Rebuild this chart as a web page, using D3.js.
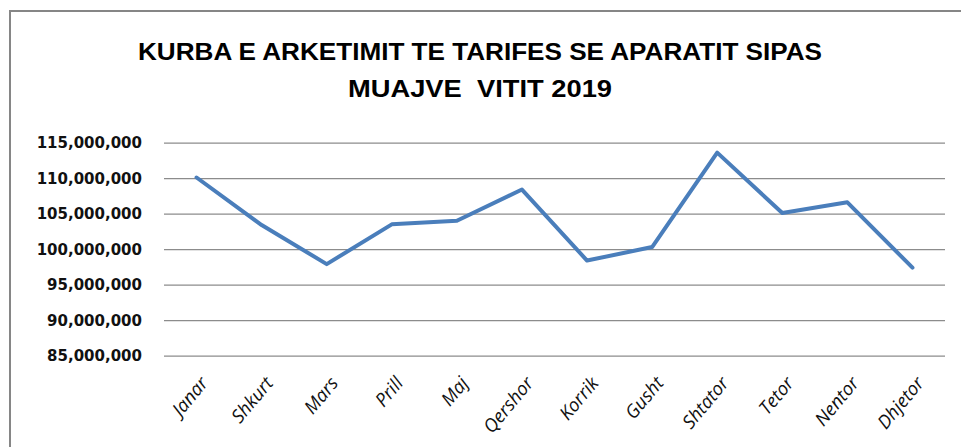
<!DOCTYPE html>
<html>
<head>
<meta charset="utf-8">
<script src="https://cdn.jsdelivr.net/npm/d3@7"></script>
<style>
  html, body { margin: 0; padding: 0; background: #ffffff; }
  svg { display: block; }
</style>
</head>
<body>
<svg id="chart" width="961" height="447"></svg>
<script>
const titleLines = ["KURBA E ARKETIMIT TE TARIFES SE APARATIT SIPAS", "MUAJVE  VITIT 2019"];
const titleWidths = [684, 264];
const months = ["Janar", "Shkurt", "Mars", "Prill", "Maj", "Qershor", "Korrik", "Gusht", "Shtator", "Tetor", "Nentor", "Dhjetor"];
const values = [110100000, 103400000, 97900000, 103500000, 104000000, 108400000, 98400000, 100300000, 113600000, 105100000, 106600000, 97400000];
const yTicks = [85000000, 90000000, 95000000, 100000000, 105000000, 110000000, 115000000];

const svg = d3.select("#chart");
const W = 961, H = 447;
const plot = { left: 164, right: 945, top: 142.7, bottom: 355.7 };

// frame
svg.append("rect")
  .attr("x", 10).attr("y", 11)
  .attr("width", W + 20).attr("height", H + 20)
  .attr("fill", "#ffffff")
  .attr("stroke", "#868686").attr("stroke-width", 2);

// title
const title = svg.append("g");
titleLines.forEach((t, i) => {
  title.append("text")
    .attr("x", 480).attr("y", 59.5 + i * 37.2)
    .attr("text-anchor", "middle")
    .attr("font-family", "'Liberation Sans', Arial, sans-serif")
    .attr("font-weight", "bold")
    .attr("font-size", 24)
    .attr("fill", "#000")
    .style("white-space", "pre")
    .attr("textLength", titleWidths[i])
    .attr("lengthAdjust", "spacingAndGlyphs")
    .text(t);
});

const x = d3.scalePoint().domain(months).range([plot.left, plot.right]).padding(0.5);
const y = d3.scaleLinear().domain([85000000, 115000000]).range([plot.bottom, plot.top]);

// gridlines
const yAxis = d3.axisLeft(y)
  .tickValues(yTicks)
  .tickSize(-(plot.right - plot.left))
  .tickPadding(22)
  .tickFormat(d3.format(","));
const gy = svg.append("g")
  .attr("transform", `translate(${plot.left},0)`)
  .call(yAxis);
gy.select(".domain").remove();
gy.selectAll(".tick line").attr("stroke", "#8c8c8c").attr("stroke-width", 1.3);
gy.selectAll(".tick text")
  .attr("font-family", "'DejaVu Sans', Verdana, sans-serif")
  .attr("font-weight", "bold")
  .attr("font-size", 15)
  .attr("fill", "#111");

// x labels
const xAxis = d3.axisBottom(x).tickSize(0).tickPadding(0);
const gx = svg.append("g")
  .attr("transform", `translate(0,${plot.bottom})`)
  .call(xAxis);
gx.select(".domain").remove();
gx.selectAll(".tick text")
  .attr("font-family", "'Open Sans', 'Liberation Sans', sans-serif")
  .attr("font-style", "italic")
  .attr("font-size", 18.5)
  .attr("fill", "#111")
  .attr("text-anchor", "end")
  .attr("dy", 0)
  .attr("y", 0)
  .attr("transform", "translate(12,28) rotate(-50)");

// line
const line = d3.line().x((d, i) => x(months[i])).y(d => y(d));
svg.append("path")
  .datum(values)
  .attr("d", line)
  .attr("fill", "none")
  .attr("stroke", "#4a7ebb")
  .attr("stroke-width", 4)
  .attr("stroke-linejoin", "round")
  .attr("stroke-linecap", "round");
</script>
</body>
</html>
